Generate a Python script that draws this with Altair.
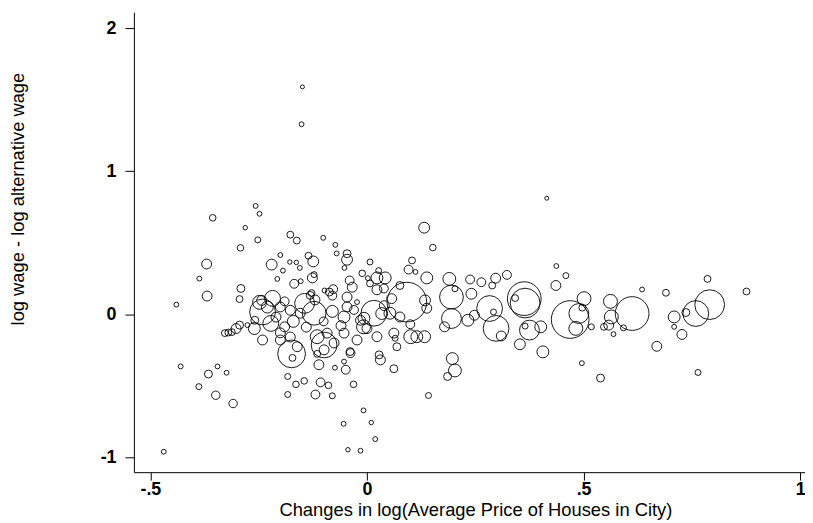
import altair as alt
import pandas as pd

# x: change in log average house price; y: log wage - log alternative wage; w: city weight (circle area)
x_vals = [
    -0.149, -0.151, -0.356, -0.257, -0.248, -0.281, -0.252, -0.292, -0.370, -0.387,
    -0.369, -0.291, -0.294, -0.440, -0.430, -0.345, -0.366, -0.324, -0.388, -0.349,
    -0.309, -0.469, -0.328, -0.320, -0.312, -0.302, -0.294, -0.276, -0.177, -0.162,
    -0.101, -0.073, -0.200, -0.220, -0.194, -0.178, -0.163, -0.155, -0.135, -0.124,
    -0.070, -0.046, -0.046, -0.052, 0.007, -0.207, -0.168, -0.153, -0.126, -0.122,
    -0.128, -0.098, -0.078, -0.080, -0.040, -0.011, 0.002, -0.034, -0.046, -0.023,
    -0.243, -0.241, -0.218, -0.200, -0.222, -0.190, -0.177, -0.154, -0.144, -0.122,
    -0.161, -0.115, -0.092, -0.076, -0.099, -0.241, -0.200, -0.259, -0.131, -0.087,
    -0.174, -0.099, -0.177, -0.111, -0.074, -0.049, -0.038, -0.053, -0.183, -0.164,
    -0.145, -0.107, -0.089, -0.183, -0.119, -0.080, -0.031, -0.008, -0.054, 0.010,
    0.019, -0.044, -0.015, -0.172, -0.115, -0.248, 0.007, 0.039, 0.076, 0.092,
    0.016, 0.053, 0.076, -0.007, -0.053, -0.053, -0.023, 0.023, 0.062, 0.069,
    0.115, 0.138, 0.133, -0.039, 0.028, -0.015, -0.046, 0.132, 0.152, 0.104,
    0.096, 0.112, 0.138, 0.190, 0.238, 0.264, 0.027, 0.023, 0.042, 0.023,
    0.057, 0.134, 0.195, 0.241, 0.203, 0.034, 0.195, 0.179, 0.101, 0.065,
    0.031, 0.062, 0.197, 0.203, 0.186, 0.142, 0.233, 0.248, -0.008, 0.437,
    0.459, 0.436, 0.323, 0.297, 0.289, 0.363, 0.365, 0.342, 0.283, 0.298,
    0.292, 0.310, 0.375, 0.365, 0.401, 0.353, 0.406, 0.469, 0.501, 0.497,
    0.489, 0.482, 0.518, 0.562, 0.564, 0.547, 0.558, 0.569, 0.592, 0.612,
    0.635, 0.496, 0.539, 0.415, 0.690, 0.786, 0.876, 0.709, 0.736, 0.759,
    0.791, 0.709, 0.727, 0.669, 0.764,
    -0.230, -0.210, -0.190, -0.170, -0.140, -0.120, -0.100, -0.080, -0.060, -0.030,
    0.000, 0.040, -0.260, -0.200, 0.100,
]
y_vals = [
    1.589, 1.328, 0.674, 0.757, 0.702, 0.605, 0.520, 0.464, 0.351, 0.249,
    0.127, 0.180, 0.106, 0.067, -0.365, -0.365, -0.418, -0.409, -0.506, -0.566,
    -0.624, -0.961, -0.132, -0.128, -0.125, -0.100, -0.076, -0.076, 0.556, 0.515,
    0.534, 0.485, 0.414, 0.347, 0.305, 0.365, 0.362, 0.324, 0.409, 0.369,
    0.425, 0.423, 0.381, 0.324, 0.365, 0.247, 0.213, 0.231, 0.254, 0.277,
    0.148, 0.166, 0.175, 0.130, 0.236, 0.286, 0.252, 0.189, 0.120, 0.085,
    0.097, 0.016, 0.111, 0.051, -0.064, -0.088, 0.028, 0.007, 0.076, 0.007,
    -0.227, -0.157, -0.132, -0.201, -0.249, -0.180, -0.180, -0.042, 0.132, 0.155,
    -0.277, -0.215, -0.159, -0.353, -0.374, -0.388, -0.272, -0.331, -0.435, -0.490,
    -0.466, -0.476, -0.497, -0.561, -0.561, -0.570, -0.490, -0.672, -0.766, -0.757,
    -0.873, -0.947, -0.954, -0.305, -0.277, 0.083, 0.215, 0.180, 0.201, 0.085,
    0.007, 0.007, -0.019, -0.028, -0.019, -0.132, -0.180, -0.157, -0.132, -0.227,
    -0.157, 0.042, -0.157, -0.261, -0.284, -0.042, 0.051, 0.605, 0.466, 0.376,
    0.312, 0.296, 0.254, 0.247, 0.243, 0.224, 0.305, 0.254, 0.254, 0.171,
    0.109, 0.097, 0.120, 0.143, 0.178, 0.005, -0.030, -0.088, -0.157, -0.168,
    -0.319, -0.381, -0.310, -0.393, -0.435, -0.568, -0.042, -0.007, -0.088, 0.337,
    0.270, 0.201, 0.275, 0.252, 0.201, 0.109, 0.078, 0.113, 0.040, -0.099,
    0.016, -0.152, -0.111, -0.083, -0.088, -0.210, -0.263, -0.037, 0.109, 0.046,
    0.005, -0.099, -0.088, 0.090, -0.019, -0.088, -0.076, -0.139, -0.095, 0.005,
    0.173, -0.342, -0.446, 0.811, 0.150, 0.247, 0.159, -0.019, 0.012, 0.005,
    0.067, -0.088, -0.141, -0.224, -0.407,
    0.050, -0.020, 0.090, -0.050, -0.090, 0.100, -0.050, 0.020, -0.080, 0.030,
    -0.100, 0.060, -0.100, -0.130, -0.070,
]
w_vals = [
    4, 6, 11, 6, 6, 5, 9, 11, 25, 6,
    25, 16, 12, 6, 6, 6, 16, 6, 9, 18,
    18, 6, 12, 12, 12, 25, 16, 6, 12, 12,
    6, 6, 6, 30, 6, 5, 5, 6, 12, 30,
    6, 16, 30, 6, 9, 6, 20, 6, 25, 9,
    12, 6, 20, 20, 20, 11, 6, 25, 25, 6,
    25, 169, 64, 25, 64, 25, 25, 25, 100, 144,
    25, 49, 25, 25, 25, 25, 25, 16, 16, 16,
    196, 169, 25, 25, 6, 20, 20, 6, 9, 11,
    11, 20, 11, 9, 20, 9, 11, 6, 6, 5,
    6, 5, 6, 12, 12, 49, 12, 20, 16, 400,
    169, 36, 25, 36, 36, 25, 25, 25, 25, 16,
    36, 25, 36, 16, 16, 25, 25, 30, 11, 12,
    20, 6, 36, 42, 20, 20, 9, 36, 36, 25,
    25, 30, 144, 30, 9, 36, 100, 25, 49, 9,
    25, 16, 36, 42, 16, 9, 36, 25, 49, 6,
    9, 25, 20, 25, 12, 289, 225, 12, 169, 169,
    9, 25, 100, 9, 36, 30, 36, 361, 49, 12,
    100, 49, 9, 49, 49, 12, 25, 6, 9, 289,
    6, 6, 16, 4, 12, 12, 12, 36, 16, 169,
    225, 6, 25, 25, 9,
    36, 25, 20, 36, 25, 25, 20, 36, 25, 20,
    25, 25, 36, 25, 20,
]

x_ticks = [-0.5, 0, 0.5, 1]
x_tick_labels = ["-.5", "0", ".5", "1"]
y_ticks = [-1, 0, 1, 2]
y_tick_labels = ["-1", "0", "1", "2"]

df = pd.DataFrame({"x": x_vals, "y": y_vals, "w": w_vals})


def make_label_expr(vals, labels):
    expr = "''"
    for v, lab in reversed(list(zip(vals, labels))):
        expr = f"abs(datum.value - ({v})) < 1e-9 ? '{lab}' : ({expr})"
    return expr


FONT = "Liberation Sans"

chart = (
    alt.Chart(df)
    .mark_point(shape="circle", filled=False, color="black", strokeWidth=0.9, opacity=1)
    .encode(
        x=alt.X(
            "x:Q",
            scale=alt.Scale(domain=[-0.538, 1.011], nice=False, zero=False),
            axis=alt.Axis(
                values=x_ticks,
                labelExpr=make_label_expr(x_ticks, x_tick_labels),
                title="Changes in log(Average Price of Houses in City)",
                titleX=344.5,
                titleY=44,
                titleBaseline="alphabetic",
                titleAlign="center",
                tickSize=8,
                labelPadding=1,
            ),
        ),
        y=alt.Y(
            "y:Q",
            scale=alt.Scale(domain=[-1.104, 2.111], nice=False, zero=False),
            axis=alt.Axis(
                values=y_ticks,
                labelExpr=make_label_expr(y_ticks, y_tick_labels),
                title="log wage - log alternative wage",
                titleX=-117,
                titleY=188,
                titleAngle=270,
                titleBaseline="middle",
                titleAlign="center",
                tickSize=9,
                labelPadding=9,
            ),
        ),
        size=alt.Size("w:Q", scale=alt.Scale(domain=[0, 400], range=[0, 1600]), legend=None),
    )
    .properties(
        width=677,
        height=464,
        autosize=alt.AutoSizeParams(type="none"),
        padding={"left": 127, "top": 2, "right": 0, "bottom": 49},
        background="white",
    )
    .configure_view(stroke=None)
    .configure_axis(
        grid=False,
        domainColor="black",
        domainWidth=1,
        tickColor="black",
        tickWidth=1,
        labelColor="black",
        titleColor="black",
        labelFont=FONT,
        titleFont=FONT,
        labelFontSize=18,
        labelFontWeight="bold",
        titleFontSize=18.5,
        titleFontWeight="normal",
        labelFlush=False,
        labelOverlap=False,
    )
)

chart.save("out.html", embed_options={"renderer": "svg", "actions": False})
